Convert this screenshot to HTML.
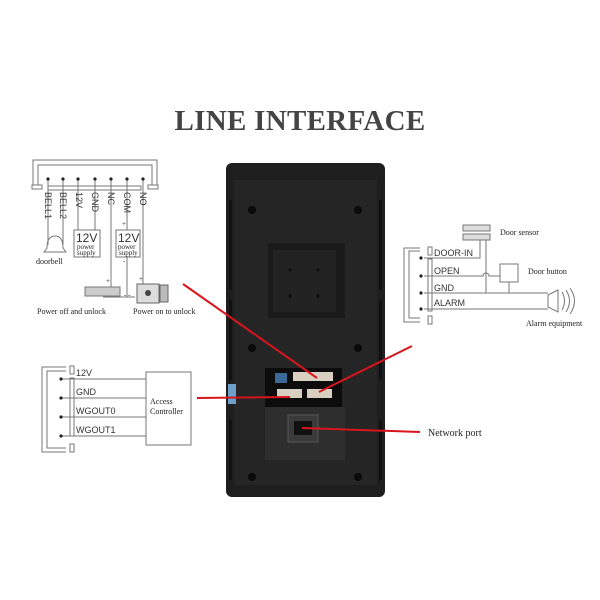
<!DOCTYPE html>
<html><head><meta charset="utf-8"><style>
html,body{margin:0;padding:0;background:#fff;}
svg{display:block;}
.s{font-family:"Liberation Sans",sans-serif;fill:#333;}
.r{font-family:"Liberation Serif",serif;fill:#222;}
</style></head><body>
<svg width="600" height="600" viewBox="0 0 600 600" xmlns="http://www.w3.org/2000/svg">
<rect width="600" height="600" fill="#fff"/>
<text x="300" y="130" text-anchor="middle" font-family="Liberation Serif,serif" font-weight="bold" font-size="29" fill="#444" letter-spacing="0.3">LINE INTERFACE</text>

<!-- top-left diagram -->
<g stroke="#777" fill="none" stroke-width="1">
<path d="M33 185 V160 H157 V185"/>
<path d="M38 185 V165 H152 V185"/>
<rect x="32" y="185" width="10" height="4"/>
<rect x="148" y="185" width="10" height="4"/>
<rect x="48" y="186" width="93" height="4"/>
<path d="M48 179 V245 M63 179 V245"/>
<path d="M78 179 V230 M95 179 V230"/>
<path d="M111 179 V287"/>
<path d="M127 179 V230 M127 256 V297"/>
<path d="M143 179 V285"/>
<rect x="74" y="230" width="26" height="27"/>
<rect x="116" y="230" width="24" height="27"/>
<path d="M47 248 q0-12 8-12 q8 0 8 12 l3 4 h-22 z"/>
<path d="M103 297 H135"/>
</g>
<g fill="#222">
<circle cx="48" cy="179" r="1.6"/><circle cx="63" cy="179" r="1.6"/><circle cx="78" cy="179" r="1.6"/><circle cx="95" cy="179" r="1.6"/><circle cx="111" cy="179" r="1.6"/><circle cx="127" cy="179" r="1.6"/><circle cx="143" cy="179" r="1.6"/>
</g>
<g class="s" font-size="9">
<text transform="translate(45,192) rotate(90)">BELL1</text>
<text transform="translate(60,192) rotate(90)">BELL2</text>
<text transform="translate(76,192) rotate(90)">12V</text>
<text transform="translate(92,192) rotate(90)">GND</text>
<text transform="translate(108,192) rotate(90)">NC</text>
<text transform="translate(124,192) rotate(90)">COM</text>
<text transform="translate(140,192) rotate(90)">NO</text>
<text x="76" y="242" font-size="12">12V</text>
<text x="118" y="242" font-size="12">12V</text>
</g>
<g class="r" font-size="7">
<text x="77" y="249">power</text><text x="77" y="255">supply</text>
<text x="118" y="249">power</text><text x="119" y="255">supply</text>
<text x="122" y="226">+</text><text x="123" y="263">-</text>
<text x="106" y="283">+</text><text x="139" y="281">+</text>
<text x="124" y="297">- -</text>
<text x="36" y="264" font-size="8">doorbell</text>
<text x="37" y="314" font-size="8">Power off and unlock</text>
<text x="133" y="314" font-size="8">Power on to unlock</text>
</g>
<rect x="85" y="287" width="35" height="9" fill="#ccc" stroke="#777"/>
<rect x="137" y="284" width="22" height="19" fill="#ddd" stroke="#666"/>
<rect x="160" y="285" width="8" height="17" fill="#bbb" stroke="#666"/>
<circle cx="148" cy="293" r="3" fill="#444"/>

<!-- right diagram -->
<g stroke="#777" fill="none">
<rect x="463" y="225" width="27" height="6" fill="#ddd"/>
<rect x="463" y="234" width="27" height="6" fill="#ddd"/>
<path d="M480 240 V258 H424 M486 240 V293"/>
<path d="M420 248 H404 V322 H420"/>
<path d="M420 251 H409 V318 H420"/>
<rect x="428" y="247" width="4" height="8"/><rect x="428" y="316" width="4" height="8"/>
<rect x="428" y="259" width="4" height="52"/>
<path d="M424 276 H483 a3 3 0 0 1 6 0 H500 M509 282 V293"/>
<path d="M424 293 H548 M424 309 H548"/>
<rect x="500" y="264" width="18" height="18"/>
<path d="M548 295 L558 290 V312 L548 307 Z M562 292 q5 9 0 18 M566 290 q7 11 0 22 M570 288 q9 13 0 26"/>
</g>
<g fill="#222"><circle cx="421" cy="258" r="1.6"/><circle cx="421" cy="276" r="1.6"/><circle cx="421" cy="293" r="1.6"/><circle cx="421" cy="309" r="1.6"/></g>
<g class="s" font-size="9">
<text x="434" y="256">DOOR-IN</text><text x="434" y="274">OPEN</text><text x="434" y="291">GND</text><text x="434" y="306">ALARM</text>
</g>
<g class="r" font-size="8">
<text x="500" y="235">Door sensor</text><text x="528" y="274">Door button</text><text x="526" y="326">Alarm equipment</text>
</g>

<!-- bottom-left diagram -->
<g stroke="#777" fill="none">
<path d="M66 367 H42 V452 H66"/>
<path d="M66 371 H47 V448 H66"/>
<rect x="70" y="366" width="4" height="8"/><rect x="70" y="444" width="4" height="8"/>
<rect x="70" y="378" width="4" height="58"/>
<path d="M62 379 H146 M62 398 H146 M62 417 H146 M62 436 H146"/>
<rect x="146" y="372" width="45" height="73"/>
</g>
<g fill="#222"><circle cx="61" cy="379" r="1.6"/><circle cx="61" cy="398" r="1.6"/><circle cx="61" cy="417" r="1.6"/><circle cx="61" cy="436" r="1.6"/></g>
<g class="s" font-size="9">
<text x="76" y="376">12V</text><text x="76" y="395">GND</text><text x="76" y="414">WGOUT0</text><text x="76" y="433">WGOUT1</text>
</g>
<g class="r" font-size="8"><text x="150" y="404">Access</text><text x="150" y="414">Controller</text></g>

<!-- device -->
<rect x="226" y="163" width="159" height="334" rx="6" fill="#1e1e1e"/>
<rect x="234" y="180" width="143" height="305" fill="#252525"/>
<g fill="#111">
<rect x="229" y="200" width="3" height="90"/><rect x="229" y="300" width="3" height="80"/><rect x="229" y="420" width="3" height="60"/>
<rect x="379" y="200" width="3" height="90"/><rect x="379" y="300" width="3" height="80"/><rect x="379" y="420" width="3" height="60"/>
<rect x="268" y="243" width="77" height="75" fill="#1a1a1a"/>
<rect x="265" y="368" width="77" height="39" fill="#0c0c0c"/>
</g>
<rect x="273" y="250" width="63" height="62" fill="#222"/>
<g fill="#0a0a0a">
<circle cx="252" cy="210" r="4"/><circle cx="358" cy="210" r="4"/>
<circle cx="252" cy="348" r="4"/><circle cx="358" cy="348" r="4"/>
<circle cx="252" cy="477" r="4"/><circle cx="358" cy="477" r="4"/>
<circle cx="290" cy="270" r="1.5"/><circle cx="318" cy="270" r="1.5"/><circle cx="290" cy="296" r="1.5"/><circle cx="318" cy="296" r="1.5"/>
</g>
<rect x="265" y="407" width="80" height="53" fill="#2e2e2e"/>
<rect x="288" y="415" width="30" height="27" fill="#3a3a3a" stroke="#555"/>
<rect x="294" y="421" width="18" height="14" fill="#111"/>
<rect x="275" y="373" width="12" height="10" fill="#3b6a9a"/>
<rect x="293" y="372" width="40" height="9" fill="#d9cfc0"/>
<rect x="277" y="389" width="25" height="9" fill="#d9cfc0"/>
<rect x="307" y="389" width="25" height="9" fill="#d9cfc0"/>
<rect x="228" y="384" width="8" height="20" fill="#6d9fc8"/>

<!-- red lines -->
<g stroke="#d8141c" stroke-width="2" fill="none">
<path d="M183 284 L317 378"/>
<path d="M197 398 L290 397"/>
<path d="M412 346 L319 392"/>
<path d="M302 428 L420 432"/>
</g>
<text x="428" y="436" class="r" font-size="10">Network port</text>
</svg>
</body></html>
